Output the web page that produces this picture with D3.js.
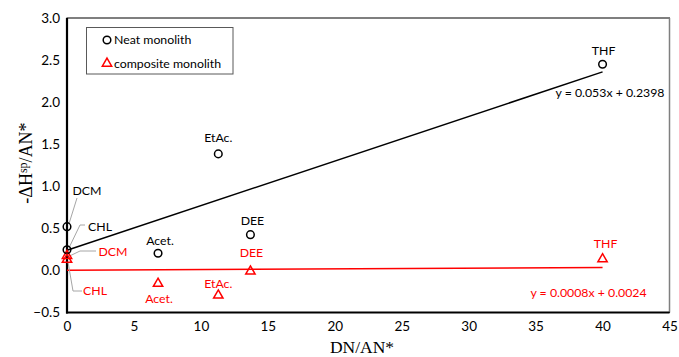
<!DOCTYPE html>
<html>
<head>
<meta charset="utf-8">
<script src="https://cdn.jsdelivr.net/npm/d3@7"></script>
<style>
  body { margin: 0; background: #fff; }
  svg { display: block; }
  .tick text { font-family: Lato, "Open Sans", sans-serif; font-size: 13.5px; fill: #000; }
  .lbl { font-family: Lato, "Open Sans", sans-serif; font-size: 12.3px; }
</style>
</head>
<body>
<svg width="679" height="357"></svg>
<script>
// solvents and their values
var solvents = ["THF", "EtAc.", "DEE", "Acet.", "DCM", "CHL"];
var dnAn = [40.0, 11.3, 13.7, 6.8, 0, 0];
var neatY = [2.45, 1.385, 0.425, 0.205, 0.52, 0.245];
var compY = [0.14, -0.29, -0.005, -0.15, 0.18, 0.135];

// trendlines (slope, intercept)
var neatFit = [0.053, 0.2398];
var compFit = [0.0008, 0.0024];
var fitX = [0, 40];

var xTicks = [0, 5, 10, 15, 20, 25, 30, 35, 40, 45];
var yTicks = [-0.5, 0, 0.5, 1, 1.5, 2, 2.5, 3];

var svg = d3.select("svg"),
    width = +svg.attr("width"),
    height = +svg.attr("height");

var pLeft = 67, pRight = 669.5, pTop = 18, pBottom = 312.5;

var x = d3.scaleLinear().domain([0, 45]).range([pLeft, pRight]);
var y = d3.scaleLinear().domain([-0.5, 3]).range([pBottom, pTop]);

// plot frame
svg.append("rect")
    .attr("x", pLeft).attr("y", pTop)
    .attr("width", pRight - pLeft).attr("height", pBottom - pTop)
    .attr("fill", "none").attr("stroke", "#000").attr("stroke-width", 1);
svg.append("line")
    .attr("x1", pRight).attr("x2", pRight).attr("y1", pTop).attr("y2", pBottom)
    .attr("stroke", "#7f7f7f").attr("stroke-width", 1.5);

// axes
var xAxis = svg.append("g")
    .attr("transform", "translate(0," + pBottom + ")")
    .call(d3.axisBottom(x).tickValues(xTicks).tickSize(0).tickPadding(9));
var yAxis = svg.append("g")
    .attr("transform", "translate(" + pLeft + ",0)")
    .call(d3.axisLeft(y).tickValues(yTicks).tickSize(0).tickPadding(7)
      .tickFormat(d3.format(".1f")));
xAxis.select(".domain").remove();
yAxis.select(".domain").remove();

svg.append("line")
    .attr("x1", pLeft).attr("x2", pLeft).attr("y1", pTop).attr("y2", pBottom + 1)
    .attr("stroke", "#000").attr("stroke-width", 2.2);
svg.append("line")
    .attr("x1", pLeft - 1).attr("x2", pRight).attr("y1", pBottom).attr("y2", pBottom)
    .attr("stroke", "#000").attr("stroke-width", 2.2);

// axis titles
svg.append("text")
    .attr("x", 362).attr("y", 353)
    .attr("text-anchor", "middle")
    .style("font-family", "'Liberation Serif', serif").style("font-size", "17.5px")
    .text("DN/AN*");

var yt = svg.append("text")
    .attr("transform", "translate(32,163) rotate(-90)")
    .attr("text-anchor", "middle")
    .style("font-family", "'Liberation Serif', serif").style("font-size", "18px");
yt.append("tspan").text("-\u0394H");
yt.append("tspan").attr("dy", -5).style("font-size", "12px").text("sp");
yt.append("tspan").attr("dy", 5).text("/AN*");

// trendlines
function fitLine(fit, color) {
  svg.append("path")
      .datum(fitX)
      .attr("fill", "none")
      .attr("stroke", color)
      .attr("stroke-width", 1.5)
      .attr("d", d3.line()
        .x(function(d) { return x(d); })
        .y(function(d) { return y(fit[0] * d + fit[1]); }));
}
fitLine(neatFit, "#000");
fitLine(compFit, "#ff0000");

// leader lines for the labels stacked at x = 0
var grey = "#a6a6a6";
function leader(pts) {
  svg.append("path")
      .attr("d", d3.line()(pts))
      .attr("fill", "none").attr("stroke", grey).attr("stroke-width", 1);
}
leader([[77, 198], [x(0) + 2, y(neatY[4]) - 3]]);
leader([[85, 225], [80, 225], [x(0) + 2, y(neatY[5]) - 2]]);
leader([[96, 251], [80, 251], [x(0) + 2, y(compY[4]) + 1]]);
leader([[82, 291], [73, 291], [x(0) + 1, y(compY[5]) + 3]]);

// markers
var tri = d3.symbol().type(d3.symbolTriangle).size(38);
solvents.forEach(function(s, i) {
  svg.append("circle")
      .attr("cx", x(dnAn[i])).attr("cy", y(neatY[i])).attr("r", 3.8)
      .attr("fill", "none").attr("stroke", "#000").attr("stroke-width", 1.5);
  svg.append("path")
      .attr("d", tri)
      .attr("transform", "translate(" + x(dnAn[i]) + "," + (y(compY[i]) + 0.5) + ")")
      .attr("fill", "none").attr("stroke", "#ff0000").attr("stroke-width", 1.5);
});

// data labels: [dx, dy] from the marker
var neatOff = [[1, -14], [0, -16], [2, -14], [2, -12], [20, -36], [33, -23]];
var compOff = [[3, -15], [0, -11], [1, -18], [1, 16], [46, -4], [28, 32]];
solvents.forEach(function(s, i) {
  svg.append("text").attr("class", "lbl")
      .attr("x", x(dnAn[i]) + neatOff[i][0]).attr("y", y(neatY[i]) + neatOff[i][1])
      .attr("text-anchor", "middle").attr("dy", "0.35em")
      .attr("fill", "#000").text(s);
  svg.append("text").attr("class", "lbl")
      .attr("x", x(dnAn[i]) + compOff[i][0]).attr("y", y(compY[i]) + compOff[i][1])
      .attr("text-anchor", "middle").attr("dy", "0.35em")
      .attr("fill", "#ff0000").text(s);
});

// equations
svg.append("text").attr("class", "lbl")
    .attr("x", 610).attr("y", 93).attr("dy", "0.35em")
    .attr("text-anchor", "middle").attr("fill", "#000")
    .text("y = " + neatFit[0] + "x + " + neatFit[1]);
svg.append("text").attr("class", "lbl")
    .attr("x", 588.5).attr("y", 293).attr("dy", "0.35em")
    .attr("text-anchor", "middle").attr("fill", "#ff0000")
    .text("y = " + compFit[0] + "x + " + compFit[1]);

// legend
var lg = svg.append("g");
lg.append("rect")
    .attr("x", 86.5).attr("y", 27.5).attr("width", 146.5).attr("height", 46.5)
    .attr("fill", "#fff").attr("stroke", "#595959").attr("stroke-width", 1);
lg.append("circle")
    .attr("cx", 107).attr("cy", 40).attr("r", 3.8)
    .attr("fill", "none").attr("stroke", "#000").attr("stroke-width", 1.5);
lg.append("path").attr("d", tri)
    .attr("transform", "translate(107,63.5)")
    .attr("fill", "none").attr("stroke", "#ff0000").attr("stroke-width", 1.5);
lg.append("text").attr("class", "lbl")
    .attr("x", 114).attr("y", 40).attr("dy", "0.35em").text("Neat monolith");
lg.append("text").attr("class", "lbl")
    .attr("x", 114).attr("y", 63.5).attr("dy", "0.35em").text("composite monolith");
</script>
</body>
</html>
